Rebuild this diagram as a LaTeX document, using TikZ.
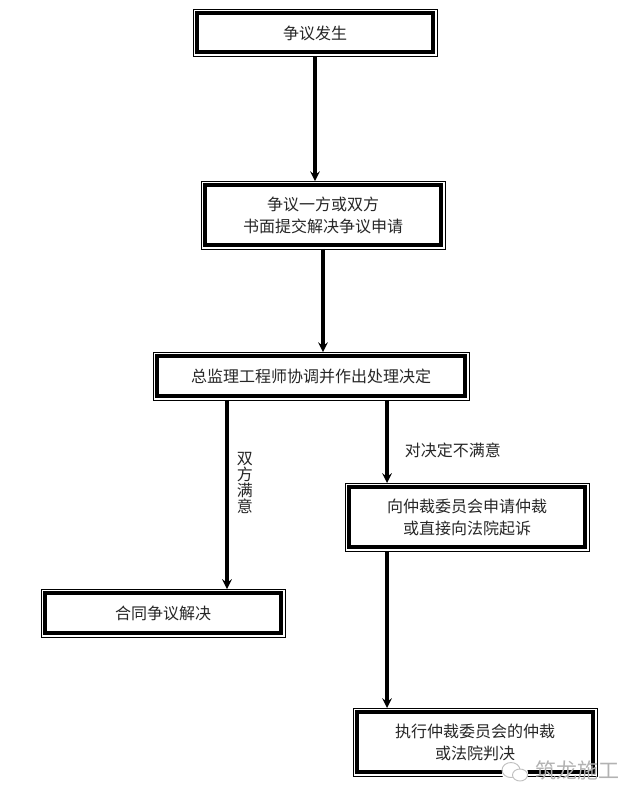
\documentclass[tikz,border=0pt]{standalone}
\usepackage{fontspec}
\setmainfont{Noto Sans CJK SC}
\usetikzlibrary{positioning, arrows}
\tikzset{
    x=1pt, y=1pt,
    node distance=100pt,
    >=stealth,
    framebox/.style={draw, line width=3.8pt, outer sep=3.9pt, inner sep=0pt, minimum width=236pt, text depth=0pt, align=center, font=\fontsize{16}{22}\selectfont, text=black!85}, % the thick inner frame
    thinframe/.style={draw, line width=.8pt}, % the thin outer frame
    flowline/.style={->, line width=3.2pt},
    edgelabel/.style={font=\fontsize{16}{16}\selectfont, text=black!85, align=center},
}

\begin{document}
\begin{tikzpicture}
    \useasboundingbox (0,0) rectangle (640,-803);
    \node[framebox, minimum height=39pt] (dispute) at (315,-32.5) {争议发生};
    \node[framebox, minimum height=60pt, below of=dispute, node distance=182.5pt, xshift=8pt] (apply) {争议一方或双方\\书面提交解决争议申请};
    \node[framebox, minimum height=40pt, minimum width=308pt, below of=apply, node distance=161pt, xshift=-12pt] (engineer) {总监理工程师协调并作出处理决定};
    \node[framebox, minimum height=60pt, below of=engineer, node distance=141pt, xshift=156pt] (arbitrate) {向仲裁委员会申请仲裁\\或直接向法院起诉};
    \node[framebox, minimum height=40pt, below of=engineer, node distance=237pt, xshift=-148pt] (settled) {合同争议解决};
    \node[framebox, minimum height=60pt, below of=arbitrate, node distance=225pt, xshift=8pt] (execute) {执行仲裁委员会的仲裁\\或法院判决};

    \foreach \frm in {dispute, apply, engineer, arbitrate, settled, execute}
        \draw[thinframe] (\frm.north west) rectangle (\frm.south east);

    \draw[flowline] (dispute.south) -- (dispute.south |- apply.north);
    \draw[flowline] (apply.south) -- (apply.south |- engineer.north);
    \coordinate[above of=settled, node distance=24pt, xshift=64pt] (settledin);
    \coordinate[above of=arbitrate, node distance=34pt, xshift=-80pt] (arbitratein);
    \coordinate[above of=execute, node distance=34pt, xshift=-88pt] (executein);
    \draw[flowline] (settledin |- engineer.south) -- (settledin) node[edgelabel, right, pos=.43, xshift=5pt, yshift=-2pt] (pleased) {双\\方\\满\\意};
    \draw[flowline] (arbitratein |- engineer.south) -- (arbitratein) node[edgelabel, right, pos=.6, xshift=13pt, yshift=-1pt] (unpleased) {对决定不满意};
    \draw[flowline] (arbitratein |- arbitrate.south) -- (executein);

    % watermark
    \node[fill=white, circle, inner sep=0pt, minimum size=26pt] (logo) at (515,-773) {};
    \draw[black!25, line width=.9pt] (511,-770) ellipse (9pt and 7.5pt);
    \draw[black!25, line width=.9pt, fill=white] (520,-775) ellipse (7.5pt and 6pt);
    \node[font=\fontsize{21}{21}\selectfont, text=black!30, right, inner sep=0pt] (brand) at (535,-770) {筑龙施工};
\end{tikzpicture}
\end{document}
